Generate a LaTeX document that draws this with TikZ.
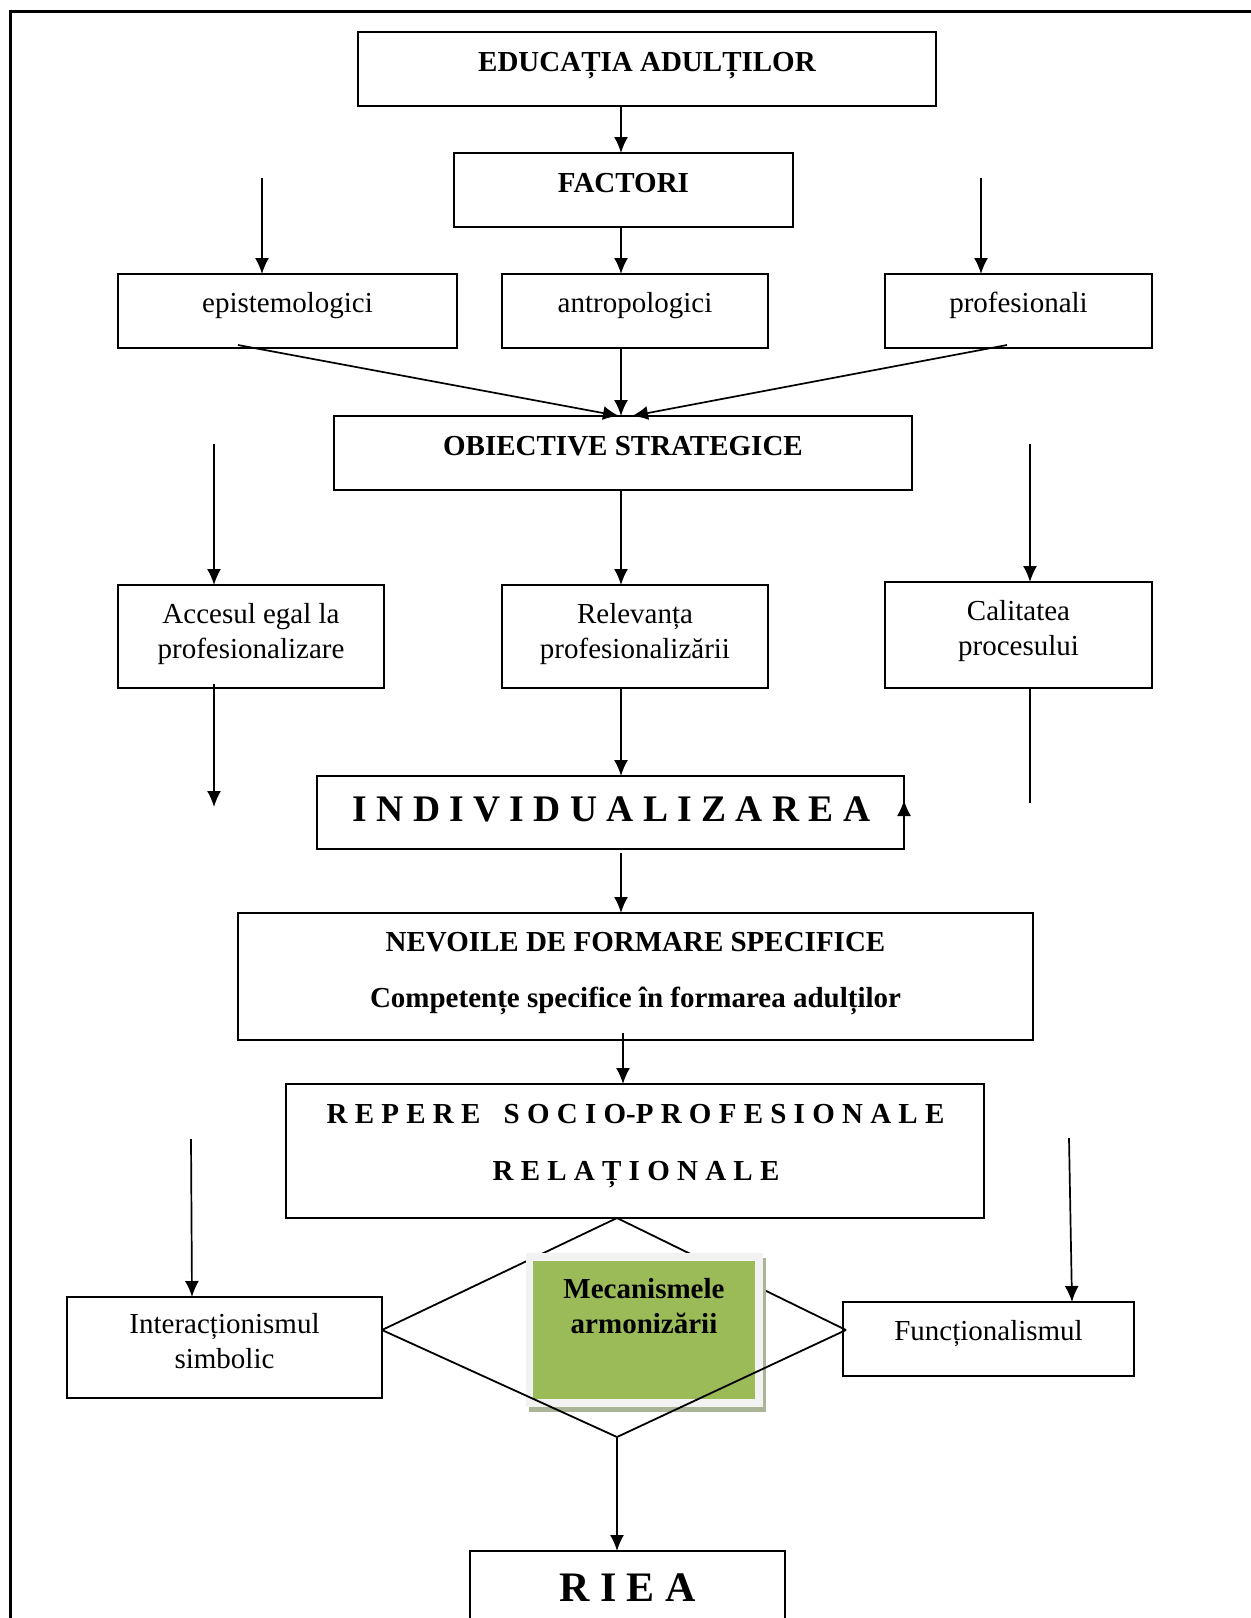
\documentclass[tikz,border=0pt]{standalone}
\usepackage{fontspec}
\setmainfont{Liberation Serif}
\usetikzlibrary{arrows.meta,calc}
\definecolor{gfill}{HTML}{9BBB59}
\definecolor{gframe}{HTML}{F2F2F2}
\definecolor{gshadow}{HTML}{AAB496}
\begin{document}
\begin{tikzpicture}[x=1pt,y=-1pt,
  box/.style={draw, line width=2pt, inner sep=0pt, outer sep=0pt},
  arr/.style={line width=1.7pt, -{Latex[length=16pt,width=14pt]}},
  ln/.style={line width=1.7pt},
  tn/.style={inner sep=0pt, anchor=base, font=\fontsize{29}{35}\selectfont},
  tb/.style={inner sep=0pt, anchor=base, font=\fontsize{29}{35}\selectfont\bfseries},
]
\useasboundingbox (0,0) rectangle (1251,1618);
% outer frame
\draw[line width=3pt] (10,1630) -- (10,11) -- (1260,11);

% boxes
\node[box, minimum width=578pt, minimum height=74pt] (edu) at (647,69) {};
\node[box, minimum width=339pt, minimum height=74pt] (fact) at (623.5,190) {};
\node[box, minimum width=339pt, minimum height=74pt] (epi) at (287.5,311) {};
\node[box, minimum width=266pt, minimum height=74pt] (antro) at (635,311) {};
\node[box, minimum width=267pt, minimum height=74pt] (prof) at (1018.5,311) {};
\node[box, minimum width=578pt, minimum height=74pt] (obi) at (623,453) {};
\node[box, minimum width=266pt, minimum height=103pt] (acc) at (251,636.5) {};
\node[box, minimum width=266pt, minimum height=103pt] (rel) at (635,636.5) {};
\node[box, minimum width=267pt, minimum height=106pt] (cal) at (1018.5,635) {};
\node[box, minimum width=587pt, minimum height=73pt] (ind) at (610.5,812.5) {};
\node[box, minimum width=795pt, minimum height=127pt] (nev) at (635.5,976.5) {};
\node[box, minimum width=698pt, minimum height=134pt] (rep) at (635,1151) {};
\node[box, minimum width=315pt, minimum height=101pt] (inter) at (224.5,1347.5) {};
\node[box, minimum width=291pt, minimum height=74pt] (func) at (988.5,1339) {};
\node[box, minimum width=315pt, minimum height=100pt] (riea) at (627.5,1601) {};

% texts
\node[tb] (eduT) at (647,71) {EDUCAȚIA ADULȚILOR};
\node[tb] (factT) at (623.5,192) {FACTORI};
\node[tn] (epiT) at (287.5,312) {epistemologici};
\node[tn] (antroT) at (635,312) {antropologici};
\node[tn] (profT) at (1018.5,312) {profesionali};
\node[tb] (obiT) at (623,455) {OBIECTIVE STRATEGICE};
\node[tn] (accT1) at (251,623) {Accesul egal la};
\node[tn] (accT2) at (251,658) {profesionalizare};
\node[tn] (relT1) at (635,623) {Relevanța};
\node[tn] (relT2) at (635,658) {profesionalizării};
\node[tn] (calT1) at (1018.5,620) {Calitatea};
\node[tn] (calT2) at (1018.5,655) {procesului};
\node[inner sep=0pt, anchor=base, font=\fontsize{37.5}{40}\selectfont\bfseries] (indT) at (611.5,821) {I N D I V I D U A L I Z A R E A};
\node[tb] (nevT1) at (635.5,951) {NEVOILE DE FORMARE SPECIFICE};
\node[tb] (nevT2) at (635.5,1007) {Competențe specifice în formarea adulților};
\node[tb] (repT1) at (635.5,1123) {R E P E R E\hspace{16pt} S O C I O-P R O F E S I O N A L E};
\node[tb] (repT2) at (636,1180) {R E L A Ț I O N A L E};
\node[tn] (interT1) at (224.5,1333) {Interacționismul};
\node[tn] (interT2) at (224.5,1368) {simbolic};
\node[tn] (funcT) at (988.5,1340) {Funcționalismul};
\node[inner sep=0pt, anchor=base, font=\fontsize{42}{44}\selectfont\bfseries] (rieaT) at (627.5,1601) {R I E A};

% column helpers and free ends
\coordinate (cC) at (621,0);
\coordinate (cC2) at (623,0);
\coordinate (sL1) at (262,178);
\coordinate (sR1) at (981,178);
\coordinate (epiOut) at (238,345);
\coordinate (profOut) at (1007,345);
\coordinate (sL2) at (214,444);
\coordinate (sR2) at (1030,444);
\coordinate (accOut) at (214,684);
\coordinate (eL2) at (214,807);
\coordinate (calOut) at (1030,688);
\coordinate (eR2) at (1030,803);
\coordinate (upS) at (904,818);
\coordinate (upE) at (904,800);
\coordinate (indOut) at (621,853);
\coordinate (nevOut) at (623,1033);
\coordinate (sL3) at (191,1139);
\coordinate (sR3) at (1069,1138);

% connectors, top part
\draw[arr] (edu.south -| cC) -- (fact.north -| cC);
\draw[arr] (fact.south -| cC) -- (antro.north -| cC);
\draw[arr] (sL1) -- (epi.north -| sL1);
\draw[arr] (sR1) -- (prof.north -| sR1);
\draw[arr] (epiOut) -- ($(obi.north)+(-4,0)$);
\draw[arr] (antro.south -| cC) -- (obi.north -| cC);
\draw[arr] (profOut) -- ($(obi.north)+(9,0)$);
\draw[arr] (sL2) -- (acc.north -| sL2);
\draw[arr] (sR2) -- (cal.north -| sR2);
\draw[arr] (obi.south -| cC) -- (rel.north -| cC);
\draw[arr] (accOut) -- (eL2);
\draw[arr] (rel.south -| cC) -- (ind.north -| cC);
\draw[ln] (calOut) -- (eR2);
\draw[arr] (upS) -- (upE);
\draw[arr] (indOut) -- (nev.north -| cC);
\draw[arr] (nevOut) -- (rep.north -| cC2);
\draw[arr] (sL3) -- ($(inter.north -| sL3)+(1,0)$);
\draw[arr] (sR3) -- ($(func.north -| sR3)+(3,0)$);

% diamond
\coordinate (dT) at (617,1218);
\coordinate (dL) at (382,1330);
\coordinate (dR) at (846,1330);
\coordinate (dB) at (617,1437);
\draw[line width=1.8pt] (dL) -- (dT) -- (dR);

% green box
\node[fill=gshadow, inner sep=0pt, minimum width=237pt, minimum height=154pt] (gsh) at (647.5,1335) {};
\node[fill=gframe, inner sep=0pt, minimum width=237pt, minimum height=154pt] (gfr) at (644.5,1330) {};
\node[fill=gfill, inner sep=0pt, minimum width=222pt, minimum height=138pt] (gin) at (644,1330) {};
\node[tb] (gT1) at (644,1298) {Mecanismele};
\node[tb] (gT2) at (644,1333) {armonizării};

\draw[line width=1.8pt] (dL) -- (dB) -- (dR);
\draw[arr] (dB) -- (riea.north -| dB);
\end{tikzpicture}
\end{document}
